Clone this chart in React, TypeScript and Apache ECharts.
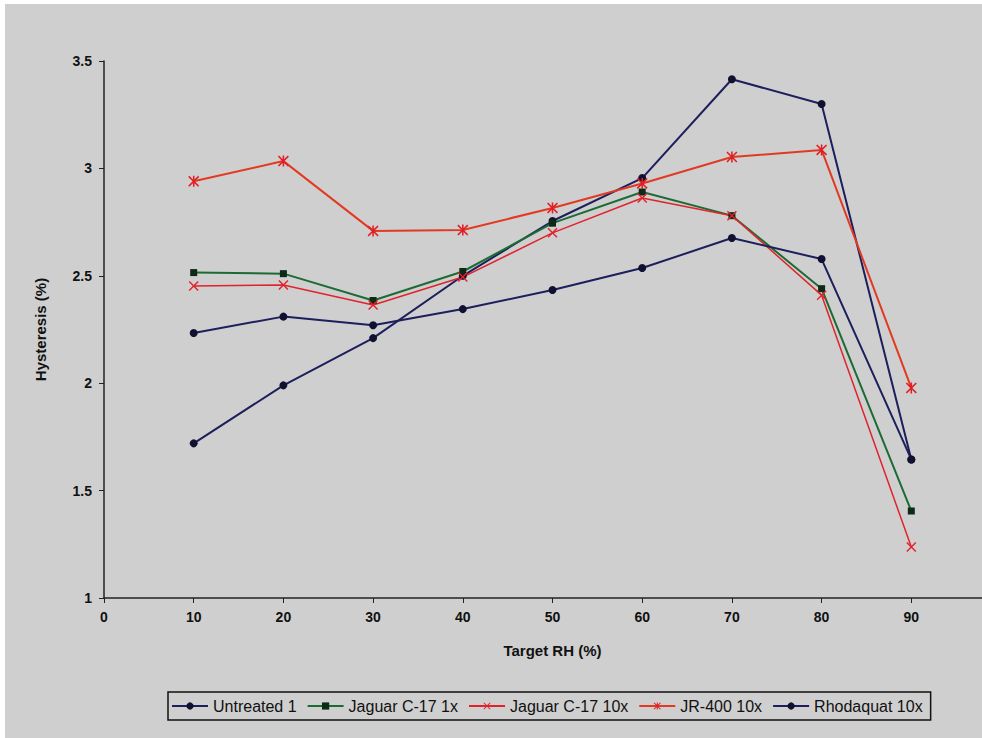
import React, { useEffect, useRef } from "react";
import * as echarts from "echarts";

const targetRH = [10, 20, 30, 40, 50, 60, 70, 80, 90];
const untreated1 = [1.72, 1.99, 2.21, 2.5, 2.755, 2.955, 3.415, 3.3, 1.645];
const jaguar1x = [2.515, 2.51, 2.385, 2.52, 2.745, 2.89, 2.78, 2.44, 1.405];
const jaguar10x = [2.453, 2.457, 2.364, 2.494, 2.7, 2.862, 2.78, 2.41, 1.237];
const jr400 = [2.94, 3.034, 2.709, 2.713, 2.816, 2.93, 3.053, 3.086, 1.978];
const rhodaquat = [2.234, 2.31, 2.27, 2.345, 2.434, 2.536, 2.676, 2.578, 1.645];

const X_PATH =
  "path://M0,1L1,0L5,4L9,0L10,1L6,5L10,9L9,10L5,6L1,10L0,9L4,5Z";
const STAR_PATH =
  "path://M0,1L1,0L5,4L9,0L10,1L6,5L10,9L9,10L5,6L1,10L0,9L4,5Z M4.3,0L5.7,0L5.7,10L4.3,10Z";

const pairs = (ys: number[]) => targetRH.map((x, i) => [x, ys[i]]);

export default function App() {
  const ref = useRef<HTMLDivElement>(null);
  useEffect(() => {
    document.body.style.margin = "0";
    if (!ref.current) return;
    const chart = echarts.init(ref.current, null, { renderer: "svg" });
    const font = "'Liberation Sans', Arial, sans-serif";
    chart.setOption({
      animation: false,
      backgroundColor: "#cfcfcf",
      textStyle: { fontFamily: font },
      grid: { left: 99, top: 57, right: 4, bottom: 140 },
      xAxis: {
        type: "value",
        min: 0,
        max: 100,
        interval: 10,
        name: "Target RH (%)",
        nameLocation: "middle",
        nameGap: 45,
        nameTextStyle: { fontSize: 15, fontWeight: "bold", color: "#111" },
        axisLine: { lineStyle: { color: "#222", width: 1.5 } },
        axisTick: { show: true, length: 5, lineStyle: { color: "#222" } },
        axisLabel: {
          fontSize: 14,
          fontWeight: "bold",
          color: "#111",
          margin: 12,
          formatter: (v: number) => (v === 100 ? "" : String(v)),
        },
        splitLine: { show: false },
      },
      yAxis: {
        type: "value",
        min: 1,
        max: 3.5,
        interval: 0.5,
        name: "Hysteresis (%)",
        nameLocation: "middle",
        nameRotate: 90,
        nameGap: 56,
        nameTextStyle: { fontSize: 15, fontWeight: "bold", color: "#111" },
        axisLine: { show: true, lineStyle: { color: "#222", width: 1.5 } },
        axisTick: { show: true, length: 5, lineStyle: { color: "#222" } },
        axisLabel: { fontSize: 14, fontWeight: "bold", color: "#111", margin: 12 },
        splitLine: { show: false },
      },
      legend: {
        left: 163,
        top: 688,
        padding: [6, 8, 6, 3],
        borderColor: "#111",
        borderWidth: 1.5,
        itemWidth: 36,
        itemHeight: 9,
        itemGap: 10,
        textStyle: { fontSize: 16, color: "#111" },
        data: [
          "Untreated 1",
          "Jaguar C-17 1x",
          "Jaguar C-17 10x",
          "JR-400 10x",
          "Rhodaquat 10x",
        ],
      },
      series: [
        {
          name: "Untreated 1",
          type: "line",
          data: pairs(untreated1),
          symbol: "circle",
          symbolSize: 8,
          lineStyle: { color: "#1c1f5c", width: 2 },
          itemStyle: { color: "#101030" },
        },
        {
          name: "Jaguar C-17 1x",
          type: "line",
          data: pairs(jaguar1x),
          symbol: "rect",
          symbolSize: 7,
          lineStyle: { color: "#1d6b34", width: 2 },
          itemStyle: { color: "#0d2a14" },
        },
        {
          name: "Jaguar C-17 10x",
          type: "line",
          data: pairs(jaguar10x),
          symbol: X_PATH,
          symbolSize: 10,
          lineStyle: { color: "#e0232b", width: 1.5 },
          itemStyle: { color: "#e0232b" },
        },
        {
          name: "JR-400 10x",
          type: "line",
          data: pairs(jr400),
          symbol: STAR_PATH,
          symbolSize: 11,
          lineStyle: { color: "#e23a22", width: 2 },
          itemStyle: { color: "#e01e24" },
        },
        {
          name: "Rhodaquat 10x",
          type: "line",
          data: pairs(rhodaquat),
          symbol: "circle",
          symbolSize: 8,
          lineStyle: { color: "#1c1f5c", width: 2 },
          itemStyle: { color: "#101030" },
        },
      ],
    });
    return () => chart.dispose();
  }, []);
  return (
    <div
      style={{
        width: 982,
        height: 738,
        background: "#ffffff",
        position: "relative",
        overflow: "hidden",
      }}
    >
      <div
        ref={ref}
        style={{ position: "absolute", left: 5, top: 4, width: 1000, height: 734 }}
      />
    </div>
  );
}
